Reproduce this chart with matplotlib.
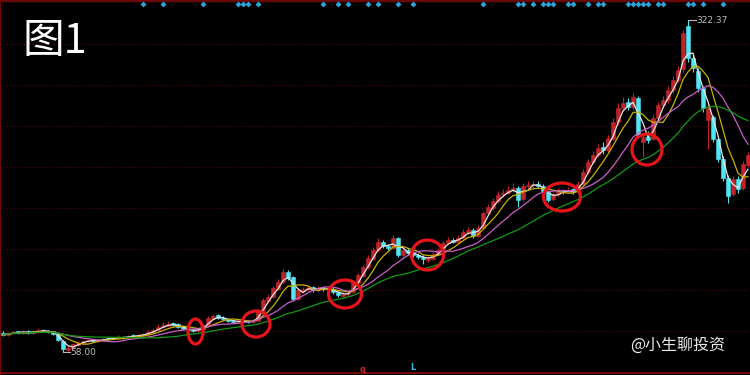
import numpy as np
import pandas as pd
import matplotlib
matplotlib.use("Agg")
import matplotlib.pyplot as plt
from matplotlib.patches import Ellipse

plt.rcParams['font.family'] = ['Noto Sans CJK SC', 'DejaVu Sans']

# daily candles (open / high / low / close)
opens = [73.5, 71.8, 73.0, 74.5, 73.0, 75.0, 73.0, 74.0, 76.0, 75.2,
         74.5, 72.5, 67.0, 60.0, 61.0, 64.0, 65.5, 66.5, 68.0, 66.5,
         67.5, 69.2, 68.3, 69.0, 70.3, 69.5, 71.5, 70.5, 71.4, 72.2,
         74.2, 75.8, 78.2, 79.0, 81.5, 80.0, 78.5, 76.8, 75.8, 74.6,
         76.0, 79.8, 84.5, 87.5, 85.5, 84.6, 83.0, 82.0, 83.5, 82.6,
         81.8, 83.0, 91.0, 98.5, 102.0, 108.5, 113.5, 122.0, 117.5, 100.5,
         107.0, 108.0, 109.5, 107.3, 109.5, 107.5, 108.5, 106.0, 103.0, 104.0,
         105.5, 113.0, 119.0, 125.5, 132.5, 139.0, 146.0, 142.8, 141.0, 149.0,
         135.5, 139.5, 137.2, 135.5, 134.0, 131.5, 132.5, 136.0, 139.0, 145.0,
         147.5, 145.5, 149.0, 153.5, 155.5, 150.5, 157.0, 168.5, 173.0, 178.5,
         183.5, 185.0, 187.0, 189.0, 179.5, 190.5, 191.0, 192.0, 190.5, 185.8,
         179.5, 184.0, 186.5, 185.5, 187.5, 185.5, 192.0, 201.0, 209.0, 215.0,
         221.0, 219.0, 228.0, 241.0, 252.5, 257.0, 253.0, 260.0, 225.0, 229.5,
         227.5, 244.0, 255.0, 258.5, 266.5, 275.0, 283.0, 318.0, 292.0, 282.0,
         268.0, 243.0, 245.0, 228.0, 212.0, 197.0, 184.0, 196.0, 189.0, 207.0]
highs = [74.5, 74.0, 75.0, 75.2, 76.0, 75.8, 74.8, 77.5, 76.8, 75.8,
         75.0, 73.0, 67.5, 62.5, 65.5, 66.8, 68.0, 68.5, 68.8, 68.6,
         69.5, 70.0, 70.2, 71.5, 71.0, 72.0, 72.3, 72.8, 73.5, 75.5,
         77.5, 80.5, 81.8, 82.5, 82.0, 80.8, 79.0, 77.5, 76.5, 77.2,
         80.5, 86.5, 88.5, 88.2, 86.5, 85.2, 83.8, 83.8, 84.2, 83.5,
         84.0, 92.5, 101.0, 104.0, 111.0, 116.0, 124.5, 123.5, 118.5, 109.0,
         110.0, 111.0, 110.5, 110.5, 110.5, 110.0, 109.5, 107.0, 105.5, 106.5,
         115.0, 121.0, 127.5, 135.0, 142.0, 148.5, 147.5, 144.0, 151.0, 150.0,
         141.0, 141.0, 138.5, 137.0, 135.0, 134.5, 137.5, 141.0, 146.5, 150.0,
         149.0, 151.0, 156.0, 157.5, 157.0, 159.0, 170.5, 176.0, 181.0, 186.0,
         188.0, 190.0, 193.0, 190.5, 192.5, 194.5, 194.0, 194.0, 192.0, 187.0,
         185.5, 188.5, 188.0, 189.5, 189.0, 194.0, 204.0, 212.0, 218.0, 224.0,
         225.0, 231.0, 244.0, 256.0, 261.0, 260.0, 264.0, 262.0, 232.0, 234.0,
         246.5, 257.5, 262.0, 269.5, 278.0, 286.0, 314.5, 322.37, 296.0, 284.0,
         270.0, 256.0, 247.0, 230.0, 214.0, 199.0, 198.5, 198.0, 210.0, 217.0]
lows = [70.8, 71.0, 72.5, 72.6, 72.4, 72.5, 72.2, 73.6, 74.0, 73.2,
        71.8, 66.5, 58.0, 59.2, 60.5, 63.2, 64.8, 66.0, 66.2, 66.0,
        67.0, 67.8, 67.8, 68.5, 68.6, 69.0, 70.0, 70.0, 70.8, 71.8,
        73.5, 75.2, 77.5, 78.5, 78.8, 77.2, 75.8, 74.8, 73.8, 74.0,
        75.5, 79.2, 83.8, 84.2, 83.5, 82.0, 81.0, 81.2, 82.0, 81.0,
        80.8, 82.5, 90.0, 97.0, 101.0, 107.5, 112.5, 115.5, 98.5, 99.5,
        105.5, 106.5, 106.0, 106.5, 107.0, 106.5, 104.5, 102.0, 101.5, 103.0,
        105.0, 112.0, 118.0, 124.5, 131.5, 138.0, 141.0, 139.0, 140.0, 133.5,
        134.0, 135.5, 134.0, 132.0, 128.5, 130.0, 131.5, 135.0, 138.0, 144.0,
        144.5, 144.5, 148.0, 152.0, 149.0, 149.5, 156.0, 167.0, 171.5, 177.0,
        181.5, 183.5, 185.5, 173.5, 178.5, 188.5, 189.0, 188.5, 184.0, 177.5,
        178.0, 182.5, 184.0, 184.5, 184.0, 184.5, 191.0, 199.5, 207.5, 213.5,
        216.0, 217.5, 226.5, 239.0, 250.0, 250.5, 251.0, 229.0, 213.0, 224.5,
        226.5, 242.5, 252.5, 256.5, 264.5, 273.0, 281.0, 289.0, 281.0, 265.0,
        249.0, 220.0, 225.0, 209.0, 194.0, 176.5, 182.0, 185.0, 187.0, 205.0]
closes = [71.6, 73.2, 74.0, 73.2, 74.8, 73.2, 74.0, 75.6, 74.8, 74.0,
          72.4, 67.7, 60.5, 61.3, 64.5, 65.3, 66.9, 67.7, 66.9, 67.7,
          68.5, 68.5, 69.3, 70.1, 69.3, 70.8, 70.8, 71.6, 72.4, 74.0,
          75.6, 78.0, 79.6, 80.4, 79.6, 78.0, 76.4, 75.6, 74.8, 76.4,
          79.6, 85.2, 86.8, 85.2, 84.4, 82.8, 82.0, 82.8, 82.8, 82.0,
          82.8, 91.5, 99.5, 101.9, 109.1, 113.8, 121.8, 117.0, 100.3, 107.5,
          108.3, 109.1, 107.5, 109.1, 108.3, 108.3, 105.9, 103.5, 104.3, 105.1,
          113.8, 119.4, 125.8, 132.9, 139.3, 145.7, 142.5, 140.9, 148.9, 135.3,
          139.3, 136.9, 135.3, 133.7, 132.1, 132.9, 136.1, 139.3, 144.9, 147.3,
          145.7, 148.9, 153.6, 155.2, 150.4, 156.8, 168.7, 173.5, 178.3, 183.1,
          184.7, 187.1, 188.7, 179.1, 190.2, 191.0, 191.8, 190.2, 185.5, 179.1,
          183.9, 186.3, 185.5, 187.1, 185.5, 191.8, 201.4, 209.3, 214.9, 220.5,
          218.9, 228.5, 241.2, 252.3, 256.3, 253.1, 261.1, 231.0, 229.0, 227.0,
          244.4, 254.7, 258.7, 266.7, 274.6, 282.6, 312.0, 292.0, 284.0, 268.0,
          252.0, 252.0, 228.0, 212.0, 197.0, 182.0, 196.0, 188.0, 208.0, 215.0]

ma_periods = [3, 6, 12, 24]
ma_colors = ['#e6e6e6', '#c8b400', '#c860c8', '#129a12']

# candles that carry a signal diamond on the top strip
signal_idx = [28, 32, 40, 47, 48, 49, 51, 64, 67, 69, 73, 75, 79, 82, 96,
              103, 104, 106, 108, 109, 110, 113, 114, 117, 119, 120,
              125, 126, 127, 128, 129, 131, 132, 137, 138, 140, 144]

# red circles drawn on the screenshot (centre x, centre y, w, h in pixels)
circles = [(195.5, 331.5, 15, 25), (256, 324, 28, 26), (345, 294, 33, 28),
           (427.5, 255, 32, 30), (562, 197, 37, 28), (647, 149.5, 30, 31)]

o = np.array(opens); h = np.array(highs); l = np.array(lows); c = np.array(closes)
n = len(c)
x = np.arange(n)
up = c >= o

fig = plt.figure(figsize=(7.5, 3.75), dpi=100, facecolor='black')
ax = fig.add_axes([0, 0, 1, 1])
ax.set_facecolor('black')
ax.set_xlim(-0.6, n - 0.6)
ax.set_ylim(39.8, 338.3)

# dotted grid
for gy in 74.8 + 32.65 * np.arange(8):
    ax.axhline(gy, color='#5a0a0a', lw=0.7, ls=(0, (1, 2)), zorder=0)

red = '#c02428'
cyan = '#50e6f4'
cols = np.where(up, red, cyan)
ax.vlines(x, l, h, colors=cols, lw=0.8, zorder=2)
ax.bar(x, np.abs(c - o), bottom=np.minimum(o, c), width=0.62,
       color=cols, edgecolor=cols, lw=0.4, zorder=3)

# moving averages
s = pd.Series(c)
for p, col in zip(ma_periods, ma_colors):
    ax.plot(x, s.rolling(p, min_periods=1).mean(), color=col, lw=0.9, zorder=4)

# signal diamonds at top
ax.scatter(signal_idx, [335.2] * len(signal_idx), marker='D', s=9,
           color='#2aa6dc', zorder=5, lw=0)

# high / low labels
i_hi = int(np.argmax(h)); i_lo = int(np.argmin(l))
ax.plot([i_hi, i_hi + 1.5], [h[i_hi], h[i_hi]], color='#bbbbbb', lw=0.8)
ax.text(i_hi + 1.6, h[i_hi], f'{h[i_hi]:.2f}', color='#bbbbbb', fontsize=6.5,
        va='center', ha='left', family='DejaVu Sans')
ax.plot([i_lo, i_lo, i_lo + 1.4], [l[i_lo] + 1.5, l[i_lo], l[i_lo]], color='#bbbbbb', lw=0.8)
ax.text(i_lo + 1.5, l[i_lo], f'{l[i_lo]:.2f}', color='#bbbbbb', fontsize=6.5,
        va='center', ha='left', family='DejaVu Sans')

# red circles
for cx, cy, w, hh in circles:
    ax.add_patch(Ellipse((cx / 750, 1 - cy / 375), w / 750, hh / 375,
                         transform=ax.transAxes, fill=False, ec='#e8141a',
                         lw=2.3, zorder=6))

for sp in ['right']:
    ax.spines[sp].set_visible(False)
ax.spines['left'].set_color('#8a0a0a')
ax.spines['bottom'].set_color('#8a0a0a')
ax.spines['top'].set_color('#6a0808')
ax.spines['top'].set_linewidth(2.5)
ax.spines['bottom'].set_linewidth(1.2)
ax.spines['left'].set_linewidth(1.2)
ax.spines['bottom'].set_position(('axes', 0.006))
ax.set_xticks([]); ax.set_yticks([])

fig.text(22 / 750, 1 - 41 / 375, '图1', color='white', fontsize=30,
         va='center', ha='left')
fig.text(630 / 750, 1 - 345 / 375, '@小生聊投资', color='#e8e8e8', fontsize=11.5,
         va='center', ha='left')
fig.text(363 / 750, 1 - 369 / 375, 'q', color='#c02428', fontsize=6,
         va='center', ha='center', fontweight='bold', family='DejaVu Sans')
fig.text(413 / 750, 1 - 368 / 375, 'L', color='#30b8e0', fontsize=6,
         va='center', ha='center', fontweight='bold', family='DejaVu Sans')

fig.savefig('out.png', dpi=100, facecolor='black')
